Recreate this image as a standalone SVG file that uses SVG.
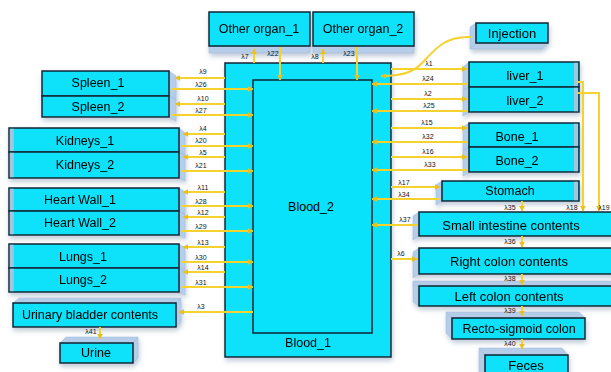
<svg xmlns="http://www.w3.org/2000/svg" width="611" height="372" viewBox="0 0 611 372">
<defs>
<style>
.box{fill:#08E2FA;stroke:#0E2433;stroke-width:1.5}
.bev{fill:#B5CDE8;stroke:#9FB8D8;stroke-width:0.5}
.t{font-family:"Liberation Sans",Arial,sans-serif;font-size:12.5px;fill:#000;text-anchor:middle;dominant-baseline:central}
.t13{font-size:13px}
.l{font-family:"Liberation Sans",Arial,sans-serif;font-size:7px;fill:#111;text-anchor:middle}
.c{fill:none;stroke:#F6D22E;stroke-width:2;marker-end:url(#ah)}
</style>
<marker id="ah" viewBox="0 0 10 10" refX="9" refY="5" markerWidth="6" markerHeight="6" markerUnits="userSpaceOnUse" orient="auto">
<path d="M0,0 L10,5 L0,10 z" fill="#E8C020"/>
</marker>
<filter id="sh" x="-20%" y="-20%" width="140%" height="160%">
<feDropShadow dx="1" dy="3" stdDeviation="2.5" flood-color="#6E86A8" flood-opacity="0.45"/>
</filter>
</defs>
<rect width="611" height="372" fill="#fff"/>

<g id="blood1" filter="url(#sh)">
<rect class="box" x="225" y="63" width="166" height="294"/>
<text class="t" x="308" y="343">Blood_1</text>
</g>
<g id="blood2">
<rect class="box" x="253" y="80" width="119" height="253"/>
<text class="t" x="311" y="207">Blood_2</text>
</g>

<g id="other1" filter="url(#sh)">
<rect class="bev" x="209" y="46" width="101" height="7"/>
<rect class="box" x="209" y="12" width="101" height="34"/>
<text class="t" x="259" y="29">Other organ_1</text>
</g>
<g id="other2" filter="url(#sh)">
<rect class="bev" x="313" y="46" width="101" height="7"/>
<rect class="box" x="313" y="12" width="101" height="34"/>
<text class="t" x="363" y="29">Other organ_2</text>
</g>

<g id="spleen1" filter="url(#sh)">
<polygon class="bev" points="169,71 176,76 176,100 169,96"/>
<rect class="box" x="42" y="71" width="127" height="25"/>
<text class="t" x="98" y="83">Spleen_1</text>
</g>
<g id="spleen2" filter="url(#sh)">
<polygon class="bev" points="169,96 176,100 176,121 169,117"/>
<rect class="box" x="42" y="96" width="127" height="21"/>
<text class="t" x="98" y="107">Spleen_2</text>
</g>

<g id="kidneys1" filter="url(#sh)">
<polygon class="bev" points="179,128 185,133 185,156 179,152"/>
<rect class="box" x="9" y="128" width="170" height="24"/>
<rect x="9.8" y="128.8" width="4" height="22.4" fill="#9FC8E0"/>
<text class="t" x="85" y="141">Kidneys_1</text>
</g>
<g id="kidneys2" filter="url(#sh)">
<polygon class="bev" points="179,152 185,156 185,181 179,178"/>
<rect class="box" x="9" y="152" width="170" height="26"/>
<rect x="9.8" y="152.8" width="4" height="24.4" fill="#9FC8E0"/>
<text class="t" x="85" y="165">Kidneys_2</text>
</g>

<g id="heart1" filter="url(#sh)">
<polygon class="bev" points="179,188 185,192 185,215 179,211"/>
<rect class="box" x="9" y="188" width="170" height="23"/>
<rect x="9.8" y="188.8" width="4" height="21.4" fill="#9FC8E0"/>
<text class="t" x="80" y="200">Heart Wall_1</text>
</g>
<g id="heart2" filter="url(#sh)">
<polygon class="bev" points="179,211 185,215 185,238 179,235"/>
<rect class="box" x="9" y="211" width="170" height="24"/>
<rect x="9.8" y="211.8" width="4" height="22.4" fill="#9FC8E0"/>
<text class="t" x="80" y="223">Heart Wall_2</text>
</g>

<g id="lungs1" filter="url(#sh)">
<polygon class="bev" points="179,244 185,248 185,272 179,268"/>
<rect class="box" x="9" y="244" width="170" height="24"/>
<rect x="9.8" y="244.8" width="4" height="22.4" fill="#9FC8E0"/>
<text class="t" x="83" y="257">Lungs_1</text>
</g>
<g id="lungs2" filter="url(#sh)">
<polygon class="bev" points="179,268 185,272 185,295 179,292"/>
<rect class="box" x="9" y="268" width="170" height="24"/>
<rect x="9.8" y="268.8" width="4" height="22.4" fill="#9FC8E0"/>
<text class="t" x="83" y="280">Lungs_2</text>
</g>

<g id="bladder" filter="url(#sh)">
<polygon class="bev" points="13,303 19,298 181,298 176,303"/>
<polygon class="bev" points="176,303 181,298 181,322 176,327"/>
<rect class="box" x="13" y="303" width="163" height="24"/>
<text class="t" x="90" y="315">Urinary bladder contents</text>
</g>

<g id="urine" filter="url(#sh)">
<polygon class="bev" points="60,343 66,337 138,337 133,343"/>
<polygon class="bev" points="133,343 138,337 138,358 133,363"/>
<rect class="box" x="60" y="343" width="73" height="20"/>
<text class="t" x="96" y="353">Urine</text>
</g>

<g id="injection" filter="url(#sh)">
<polygon class="bev" points="476,23 470,27 470,49 476,43"/>
<polygon class="bev" points="470,49 476,43 548,43 542,49"/>
<rect class="box" x="476" y="23" width="72" height="20"/>
<text class="t t13" x="512" y="33">Injection</text>
</g>

<g id="liver1" filter="url(#sh)">
<polygon class="bev" points="469,62 463,67 463,91 469,87"/>
<rect class="box" x="469" y="62" width="110" height="25"/>
<rect x="574" y="62.8" width="4" height="23.4" fill="#9FC8E0"/>
<text class="t" x="525" y="76">liver_1</text>
</g>
<g id="liver2" filter="url(#sh)">
<polygon class="bev" points="469,87 463,91 463,116 469,112"/>
<rect class="box" x="469" y="87" width="110" height="25"/>
<rect x="574" y="87.8" width="4" height="23.4" fill="#9FC8E0"/>
<text class="t" x="525" y="101">liver_2</text>
</g>

<g id="bone1" filter="url(#sh)">
<polygon class="bev" points="469,123 463,127 463,151 469,147"/>
<rect class="box" x="469" y="123" width="110" height="24"/>
<rect x="574" y="123.8" width="4" height="22.4" fill="#9FC8E0"/>
<text class="t" x="517" y="137">Bone_1</text>
</g>
<g id="bone2" filter="url(#sh)">
<polygon class="bev" points="469,147 463,151 463,176 469,172"/>
<rect class="box" x="469" y="147" width="110" height="25"/>
<rect x="574" y="147.8" width="4" height="23.4" fill="#9FC8E0"/>
<text class="t" x="517" y="161">Bone_2</text>
</g>

<g id="stomach" filter="url(#sh)">
<polygon class="bev" points="442,181 436,185 436,205 442,201"/>
<rect class="box" x="442" y="181" width="137" height="20"/>
<rect x="574" y="181.8" width="4" height="18.4" fill="#9FC8E0"/>
<text class="t" x="510" y="191">Stomach</text>
</g>

<g id="smallint" filter="url(#sh)">
<polygon class="bev" points="419,212 413,216 413,240 419,236"/>
<rect class="box" x="419" y="212" width="196" height="24"/>
<text class="t t13" x="511" y="225">Small intestine contents</text>
</g>

<g id="rightcolon" filter="url(#sh)">
<polygon class="bev" points="419,248 413,252 413,278 419,274"/>
<rect class="box" x="419" y="248" width="196" height="26"/>
<text class="t t13" x="509" y="261">Right colon contents</text>
</g>

<g id="leftcolon" filter="url(#sh)">
<polygon class="bev" points="419,286 413,282 413,302 419,306"/>
<rect class="bev" x="413" y="281" width="200" height="5"/>
<rect class="box" x="419" y="286" width="196" height="20"/>
<text class="t t13" x="509" y="296">Left colon contents</text>
</g>

<g id="recto" filter="url(#sh)">
<polygon class="bev" points="452,318 446,312 579,312 585,318"/>
<polygon class="bev" points="452,318 446,312 446,333 452,339"/>
<rect class="box" x="452" y="318" width="133" height="21"/>
<text class="t" x="519" y="329">Recto-sigmoid colon</text>
</g>

<g id="feces" filter="url(#sh)">
<polygon class="bev" points="485,355 479,348 562,348 568,355"/>
<polygon class="bev" points="485,355 479,348 479,372 485,378"/>
<rect class="box" x="485" y="355" width="83" height="22"/>
<text class="t t13" x="526" y="365">Feces</text>
</g>

<g id="connectors">
<line class="c" x1="254" y1="63" x2="254" y2="49"/>
<line class="c" x1="280" y1="47" x2="280" y2="80"/>
<line class="c" x1="323" y1="63" x2="323" y2="49"/>
<line class="c" x1="357" y1="47" x2="357" y2="80"/>

<line class="c" x1="225" y1="78" x2="175" y2="78"/>
<line class="c" x1="172" y1="89" x2="253" y2="89"/>
<line class="c" x1="225" y1="104" x2="175" y2="104"/>
<line class="c" x1="172" y1="115" x2="253" y2="115"/>

<line class="c" x1="225" y1="134" x2="183" y2="134"/>
<line class="c" x1="181" y1="146" x2="253" y2="146"/>
<line class="c" x1="225" y1="157" x2="183" y2="157"/>
<line class="c" x1="181" y1="171" x2="253" y2="171"/>

<line class="c" x1="225" y1="192" x2="183" y2="192"/>
<line class="c" x1="181" y1="206" x2="253" y2="206"/>
<line class="c" x1="225" y1="217" x2="183" y2="217"/>
<line class="c" x1="181" y1="231" x2="253" y2="231"/>

<line class="c" x1="225" y1="247" x2="183" y2="247"/>
<line class="c" x1="181" y1="262" x2="253" y2="262"/>
<line class="c" x1="225" y1="272" x2="183" y2="272"/>
<line class="c" x1="181" y1="287" x2="253" y2="287"/>

<line class="c" x1="253" y1="312" x2="179" y2="312"/>
<line class="c" x1="100" y1="327" x2="100" y2="339"/>

<path class="c" d="M471,37 C446,36 436,48 424,61 C415,71 405,76 381,76"/>

<line class="c" x1="391" y1="69" x2="467" y2="69"/>
<line class="c" x1="467" y1="84" x2="372" y2="84"/>
<line class="c" x1="391" y1="99" x2="467" y2="99"/>
<line class="c" x1="467" y1="111" x2="372" y2="111"/>
<line class="c" x1="391" y1="128" x2="467" y2="128"/>
<line class="c" x1="467" y1="142" x2="372" y2="142"/>
<line class="c" x1="391" y1="157" x2="467" y2="157"/>
<line class="c" x1="467" y1="170" x2="372" y2="170"/>
<line class="c" x1="391" y1="187" x2="440" y2="187"/>
<line class="c" x1="440" y1="199" x2="372" y2="199"/>
<line class="c" x1="417" y1="225" x2="372" y2="225"/>
<line class="c" x1="391" y1="259" x2="417" y2="259"/>

<line class="c" x1="522" y1="201" x2="522" y2="211"/>
<line class="c" x1="522" y1="236" x2="522" y2="247"/>
<line class="c" x1="522" y1="274" x2="522" y2="285"/>
<line class="c" x1="522" y1="306" x2="522" y2="316"/>
<line class="c" x1="522" y1="339" x2="522" y2="349"/>

<path class="c" d="M577,82 H583 V211"/>
<path class="c" d="M577,93 H599 V211"/>

<g>
<text class="l" x="245" y="59">λ7</text>
<text class="l" x="273" y="56">λ22</text>
<text class="l" x="315" y="59">λ8</text>
<text class="l" x="349" y="56">λ23</text>

<text class="l" x="203" y="74">λ9</text>
<text class="l" x="201" y="87">λ26</text>
<text class="l" x="203" y="101">λ10</text>
<text class="l" x="201" y="113">λ27</text>
<text class="l" x="203" y="131">λ4</text>
<text class="l" x="201" y="143">λ20</text>
<text class="l" x="203" y="155">λ5</text>
<text class="l" x="201" y="168">λ21</text>
<text class="l" x="203" y="190">λ11</text>
<text class="l" x="201" y="204">λ28</text>
<text class="l" x="203" y="215">λ12</text>
<text class="l" x="201" y="229">λ29</text>
<text class="l" x="203" y="245">λ13</text>
<text class="l" x="201" y="260">λ30</text>
<text class="l" x="203" y="270">λ14</text>
<text class="l" x="201" y="285">λ31</text>
<text class="l" x="201" y="309">λ3</text>
<text class="l" x="91" y="334">λ41</text>

<text class="l" x="429" y="66">λ1</text>
<text class="l" x="428" y="81">λ24</text>
<text class="l" x="428" y="96">λ2</text>
<text class="l" x="429" y="108">λ25</text>
<text class="l" x="427" y="125">λ15</text>
<text class="l" x="428" y="139">λ32</text>
<text class="l" x="428" y="154">λ16</text>
<text class="l" x="430" y="167">λ33</text>
<text class="l" x="404" y="185">λ17</text>
<text class="l" x="404" y="197">λ34</text>
<text class="l" x="405" y="222">λ37</text>
<text class="l" x="401" y="256">λ6</text>

<text class="l" x="510" y="210">λ35</text>
<text class="l" x="572" y="210">λ18</text>
<text class="l" x="604" y="210">λ19</text>
<text class="l" x="510" y="244">λ36</text>
<text class="l" x="510" y="281">λ38</text>
<text class="l" x="510" y="313">λ39</text>
<text class="l" x="510" y="346">λ40</text>
</g>
</g>
</svg>
